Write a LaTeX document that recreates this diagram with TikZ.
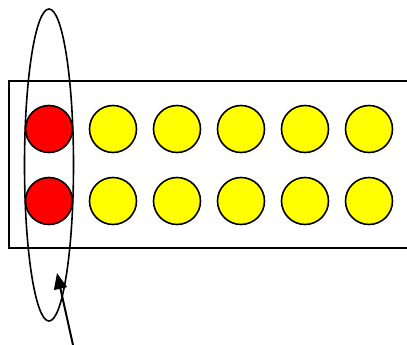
\documentclass[tikz,border=0pt]{standalone}
\usepackage{amsmath}
\usepackage{tikz}
\usetikzlibrary{arrows.meta}

\definecolor{ballred}{RGB}{255,0,0}
\definecolor{ballyellow}{RGB}{255,255,0}

\begin{document}
\begin{tikzpicture}[x=1pt,y=-1pt,
  ball/.style={circle,draw,line width=1.6pt,minimum size=47pt,inner sep=0pt},
  line width=1.6pt]
  \useasboundingbox (0,0) rectangle (407,345);
  \clip (0,0) rectangle (407,345);
  \coordinate (T) at (9,81);
  \coordinate (B) at (9,248);
  \draw (420,81)--(T)--(B)--(420,248);
  \foreach \i/\x in {0/49,1/113,2/177,3/241,4/305,5/369}{
    \ifnum\i=0
      \node[ball,fill=ballred] (top\i) at (\x,129) {};
      \node[ball,fill=ballred] (bot\i) at (\x,201) {};
    \else
      \node[ball,fill=ballyellow] (top\i) at (\x,129) {};
      \node[ball,fill=ballyellow] (bot\i) at (\x,201) {};
    \fi
  }
  \coordinate (E) at (49,165);
  \draw (E) ellipse [x radius=24.5,y radius=156];
  \coordinate (S) at (73,345);
  \coordinate (P) at (57,273);
  \draw[line width=2pt,-{Triangle[length=16pt,width=13pt]}] (S)--(P);
\end{tikzpicture}
\end{document}
